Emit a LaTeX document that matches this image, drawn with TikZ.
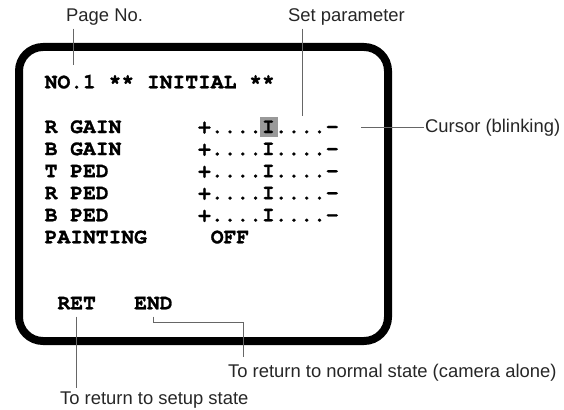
\documentclass[tikz,border=0pt]{standalone}
\usepackage{fontspec}
\setmainfont{Liberation Sans}
\newfontfamily\screenfont{TeX Gyre Cursor}[BoldFeatures={FakeBold=1.2}]
\usepackage{xcolor}
\usepackage{tikz}
\usetikzlibrary{arrows.meta,positioning,calc}

\begin{document}
\begin{tikzpicture}[
  x=1pt, y=-1pt,
  screentext/.style={font=\screenfont\bfseries\fontsize{21.3}{25}\selectfont, anchor=base west, inner sep=0pt},
  callout/.style={font=\fontsize{18.4}{22}\selectfont, text=black!85, anchor=base west, inner sep=0pt},
  leader/.style={draw=black!60, line width=0.9pt}
]
\useasboundingbox (0,0) rectangle (564,409);

% ==================== Monitor screen ====================
\node (screen) [draw, line width=8pt, rounded corners=24pt, minimum width=369pt,
  minimum height=294pt, inner sep=0pt] at (203.5,194) {};

% cursor cell (grey) behind the I
\node (cursorcell) [fill=black!40, minimum width=18pt, minimum height=20pt, inner sep=0pt] at (269,127) {};

\node (title) [screentext] at (44.5,88.3) {NO.1 ** INITIAL **};

\node (rgain) [screentext] at (44.5,133) {R GAIN};
\node (rgainval) [screentext] at (197.9,133) {+....I....-};
\node (bgain) [screentext] at (44.5,155.1) {B GAIN};
\node (bgainval) [screentext] at (197.9,155.1) {+....I....-};
\node (tped) [screentext] at (44.5,177.2) {T PED};
\node (tpedval) [screentext] at (197.9,177.2) {+....I....-};
\node (rped) [screentext] at (44.5,199.2) {R PED};
\node (rpedval) [screentext] at (197.9,199.2) {+....I....-};
\node (bped) [screentext] at (44.5,221.3) {B PED};
\node (bpedval) [screentext] at (197.9,221.3) {+....I....-};
\node (painting) [screentext] at (44.5,243.3) {PAINTING};
\node (paintingval) [screentext] at (210.6,243.3) {OFF};

\node (ret) [screentext] at (57.3,309.3) {RET};
\node (endsc) [screentext] at (134,309.3) {END};

% ==================== Callouts ====================
\node (pageno) [callout] at (66,21.5) {Page No.};
\node (setparam) [callout] at (288,21.5) {Set parameter};
\node (cursorlbl) [callout] at (425,132) {Cursor (blinking)};
\node (endlbl) [callout] at (228,377) {To return to normal state (camera alone)};
\node (retlbl) [callout] at (60,404) {To return to setup state};

% leader lines
\coordinate (pagetip) at (73,65);
\coordinate (settip) at (302,116);
\coordinate (cursortip) at (361,127);
\coordinate (endbend) at (243,322);

\draw[leader, shorten <=3pt] (pageno.south -| pagetip) -- (pagetip);
\draw[leader, shorten <=3pt] (setparam.south -| settip) -- (settip);
\draw[leader, shorten <=1.5pt] (cursorlbl.west) -- (cursortip |- cursorlbl.west);
\draw[leader, shorten <=7pt, shorten >=3pt] (ret.south) -- (ret.south |- retlbl.north);
\draw[leader, shorten <=7pt, shorten >=6pt] (endsc.south) |- (endbend) -- (endbend |- endlbl.north);

\end{tikzpicture}
\end{document}
